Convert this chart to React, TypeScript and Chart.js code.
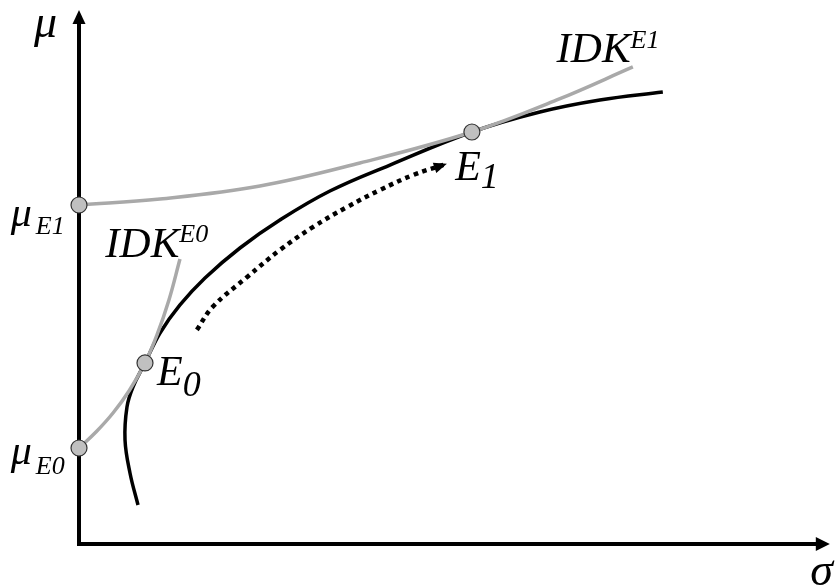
import React, { useEffect, useRef } from "react";
import { Chart, registerables } from "chart.js";

Chart.register(...registerables);

// Efficient frontier (σ, μ)
const FRONTIER_SIGMA = [7.86, 6.79, 6.13, 6.39, 7.19, 8.79, 10.79, 13.45, 16.78, 21.44, 26.76, 33.42, 41.41, 52.33, 61.38, 69.37, 77.76];
const FRONTIER_MU = [7.3, 13.3, 19.48, 25.66, 29.4, 33.9, 39.51, 44.76, 49.81, 55.43, 60.67, 66.1, 70.97, 77.15, 80.9, 83.15, 84.64];

// Indifference curve through E0
const IDK_E0_SIGMA = [0, 2.26, 4.53, 6.66, 8.79, 10.39, 11.98, 13.45];
const IDK_E0_MU = [17.98, 20.97, 24.53, 28.65, 33.9, 39.14, 45.69, 53.37];

// Indifference curve through E1
const IDK_E1_SIGMA = [0, 10.79, 24.1, 37.42, 52.33, 63.65, 73.77];
const IDK_E1_MU = [63.48, 64.61, 67.04, 71.35, 77.15, 83.15, 89.33];

// Dotted movement arrow from E0 towards E1
const SHIFT_SIGMA = [15.7, 17.8, 22.4, 26.8, 31.2, 35.7, 40.1, 44.5, 49.0];
const SHIFT_MU = [40.1, 44.4, 50.0, 55.1, 59.4, 63.1, 66.3, 69.1, 71.2];

// Marked points: μE1, μE0, E0, E1
const POINT_NAMES = ["μE1", "μE0", "E0", "E1"];
const POINT_SIGMA = [0, 0, 8.79, 52.33];
const POINT_MU = [63.48, 17.98, 33.9, 77.15];

const AXIS_MIN = 0;
const AXIS_MAX = 100;

const zip = (xs: number[], ys: number[]) => xs.map((x, i) => ({ x, y: ys[i] }));

const FAMILY = `"Liberation Serif", "Times New Roman", Times, serif`;
const FONT = (s: number) => `italic ${s}px ${FAMILY}`;

type Lbl = { main: string; size: number; extra?: string; extraSize?: number; dy?: number; gap?: number; sx: number; sy: number };
const LABELS: Lbl[] = [
  { main: "μ", size: 46, sx: -6.0, sy: 94.9 },
  { main: "σ", size: 46, sx: 97.4, sy: -7.6 },
  { main: "μ", size: 42, extra: "E1", extraSize: 26, dy: 8, gap: 4, sx: -9.1, sy: 59.55 },
  { main: "μ", size: 42, extra: "E0", extraSize: 26, dy: 10, gap: 4, sx: -9.1, sy: 14.98 },
  { main: "IDK", size: 43, extra: "E0", extraSize: 26, dy: -15, sx: 3.5, sy: 53.7 },
  { main: "IDK", size: 43, extra: "E1", extraSize: 26, dy: -14, sx: 63.6, sy: 90.3 },
  { main: "E", size: 42, extra: "0", extraSize: 36, dy: 11, sx: 10.4, sy: 29.8 },
  { main: "E", size: 42, extra: "1", extraSize: 36, dy: 8, sx: 50.1, sy: 68.2 },
];

const overlay = {
  id: "overlay",
  beforeDatasetsDraw(chart: any) {
    const { ctx } = chart;
    const xs = chart.scales.x;
    const ys = chart.scales.y;
    const ox = xs.getPixelForValue(AXIS_MIN);
    const oy = ys.getPixelForValue(AXIS_MIN);
    const xe = xs.getPixelForValue(AXIS_MAX);
    const ye = ys.getPixelForValue(AXIS_MAX);
    ctx.save();
    ctx.strokeStyle = "#000";
    ctx.fillStyle = "#000";
    ctx.lineWidth = 4;
    ctx.lineCap = "butt";
    ctx.beginPath();
    ctx.moveTo(ox, ye + 12);
    ctx.lineTo(ox, oy + 2);
    ctx.moveTo(ox - 2, oy);
    ctx.lineTo(xe - 12, oy);
    ctx.stroke();
    ctx.beginPath();
    ctx.moveTo(ox, ye);
    ctx.lineTo(ox - 6.5, ye + 14);
    ctx.lineTo(ox + 6.5, ye + 14);
    ctx.closePath();
    ctx.fill();
    ctx.beginPath();
    ctx.moveTo(xe, oy);
    ctx.lineTo(xe - 14, oy - 7);
    ctx.lineTo(xe - 14, oy + 7);
    ctx.closePath();
    ctx.fill();
    ctx.restore();
  },
  afterDatasetsDraw(chart: any) {
    const { ctx } = chart;
    const xs = chart.scales.x;
    const ys = chart.scales.y;
    const n = SHIFT_SIGMA.length;
    const tx = xs.getPixelForValue(SHIFT_SIGMA[n - 1]);
    const ty = ys.getPixelForValue(SHIFT_MU[n - 1]);
    const px = xs.getPixelForValue(SHIFT_SIGMA[n - 2]);
    const py = ys.getPixelForValue(SHIFT_MU[n - 2]);
    const ang = Math.atan2(ty - py, tx - px);
    ctx.save();
    ctx.fillStyle = "#000";
    ctx.translate(tx, ty);
    ctx.rotate(ang);
    ctx.beginPath();
    ctx.moveTo(0, 0);
    ctx.lineTo(-13, -5.5);
    ctx.lineTo(-13, 5.5);
    ctx.closePath();
    ctx.fill();
    ctx.restore();

    ctx.save();
    ctx.fillStyle = "#000";
    ctx.textAlign = "left";
    ctx.textBaseline = "alphabetic";
    for (const l of LABELS) {
      const x = xs.getPixelForValue(l.sx);
      const y = ys.getPixelForValue(l.sy);
      ctx.font = FONT(l.size);
      ctx.fillText(l.main, x, y);
      if (l.extra) {
        const w = ctx.measureText(l.main).width + (l.gap || 0);
        ctx.font = FONT(l.extraSize || 24);
        ctx.fillText(l.extra, x + w, y + (l.dy || 0));
      }
    }
    ctx.restore();
  },
};

export default function App() {
  const ref = useRef<HTMLCanvasElement | null>(null);
  useEffect(() => {
    if (!ref.current) return;
    const lineBase = { showLine: true, pointRadius: 0, pointHoverRadius: 0, tension: 0.4, fill: false, borderCapStyle: "butt" as const, clip: false as any };
    const chart = new Chart(ref.current, {
      type: "scatter",
      data: {
        datasets: [
          {
            label: "Points",
            data: zip(POINT_SIGMA, POINT_MU),
            showLine: false,
            pointRadius: 8,
            pointHoverRadius: 8,
            pointBackgroundColor: "#c0c0c0",
            pointBorderColor: "#333333",
            pointBorderWidth: 1.2,
            clip: false as any,
          },
          {
            label: "IDK E1",
            data: zip(IDK_E1_SIGMA, IDK_E1_MU),
            borderColor: "#a9a9a9",
            borderWidth: 3.5,
            ...lineBase,
          },
          {
            label: "IDK E0",
            data: zip(IDK_E0_SIGMA, IDK_E0_MU),
            borderColor: "#a9a9a9",
            borderWidth: 3.5,
            ...lineBase,
          },
          {
            label: "Frontier",
            data: zip(FRONTIER_SIGMA, FRONTIER_MU),
            borderColor: "#000",
            borderWidth: 3.5,
            ...lineBase,
          },
          {
            label: "Shift",
            data: zip(SHIFT_SIGMA, SHIFT_MU),
            borderColor: "#000",
            borderWidth: 4.5,
            borderDash: [4.5, 4.5],
            ...lineBase,
          },
        ],
      },
      options: {
        responsive: false,
        maintainAspectRatio: false,
        animation: false,
        devicePixelRatio: 1,
        events: [],
        layout: { padding: { left: 79, right: 9, top: 10, bottom: 41 } },
        plugins: { legend: { display: false }, tooltip: { enabled: false } },
        scales: {
          x: { type: "linear", min: AXIS_MIN, max: AXIS_MAX, display: false },
          y: { type: "linear", min: AXIS_MIN, max: AXIS_MAX, display: false },
        },
      },
      plugins: [overlay],
    });
    return () => {
      chart.destroy();
    };
  }, []);
  return (
    <div style={{ position: "fixed", left: 0, top: 0, width: 839, height: 585, background: "#fff" }}>
      <canvas ref={ref} width={839} height={585} style={{ display: "block", width: 839, height: 585 }} />
    </div>
  );
}
